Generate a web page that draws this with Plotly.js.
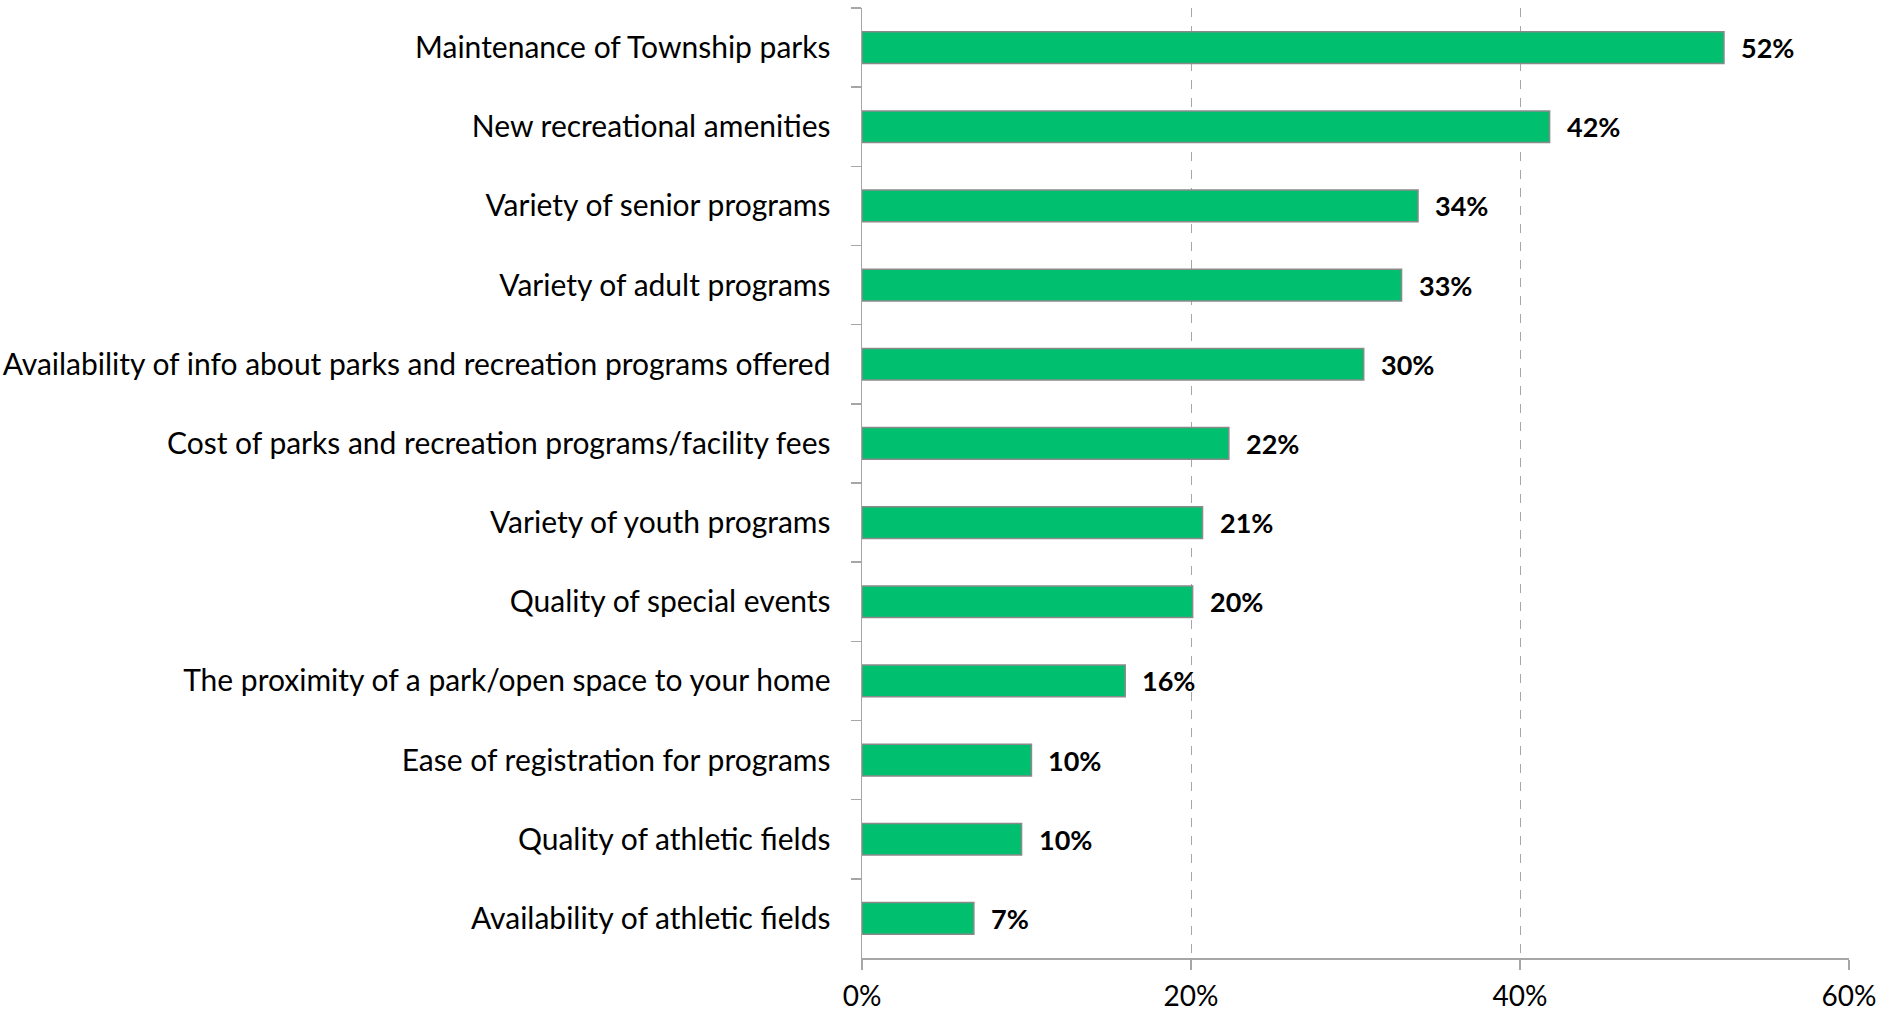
<!DOCTYPE html>
<html><head><meta charset="utf-8">
<script src="https://cdn.plot.ly/plotly-3.0.1.min.js"></script>
<style>html,body{margin:0;padding:0;background:#fff}#chart{width:1883px;height:1013px}</style>
</head><body><div id="chart"></div>
<script>
const categories = [
  "Maintenance of Township parks",
  "New recreational amenities",
  "Variety of senior programs",
  "Variety of adult programs",
  "Availability of info about parks and recreation programs offered",
  "Cost of parks and recreation programs/facility fees",
  "Variety of youth programs",
  "Quality of special events",
  "The proximity of a park/open space to your home",
  "Ease of registration for programs",
  "Quality of athletic fields",
  "Availability of athletic fields"
];
const values = [52.4, 41.8, 33.8, 32.8, 30.5, 22.3, 20.7, 20.1, 16.0, 10.3, 9.7, 6.8];
const labels = ["52%","42%","34%","33%","30%","22%","21%","20%","16%","10%","10%","7%"];
const tickVals = [0, 20, 40, 60];
const tickText = ["0%", "20%", "40%", "60%"];

const font = "Lato, 'Open Sans', sans-serif";
const trace = {
  type: "bar", orientation: "h",
  x: values, y: categories,
  marker: {color: "#00BF6F", line: {color: "#8a8a8a", width: 1.5}},
  width: 0.4,
  hoverinfo: "none"
};
const annotations = values.map((v, i) => ({
  x: v, y: categories[i], xref: "x", yref: "y",
  text: "<b>" + labels[i] + "</b>", showarrow: false,
  xanchor: "left", xshift: 15,
  font: {family: font, size: 27, color: "#000"}
}));
const layout = {
  width: 1883, height: 1013,
  margin: {l: 862, r: 34, t: 8, b: 55},
  paper_bgcolor: "#fff", plot_bgcolor: "#fff",
  showlegend: false,
  bargap: 0.6,
  xaxis: {
    range: [0, 60], tickvals: tickVals, ticktext: tickText,
    showgrid: true, gridcolor: "#a6a6a6", griddash: "dash", gridwidth: 1,
    showline: true, linecolor: "#a6a6a6", linewidth: 1.5,
    ticks: "outside", ticklen: 10, tickcolor: "#a6a6a6", tickwidth: 1.5,
    zeroline: false, fixedrange: true,
    ticklabelstandoff: 3,
    tickfont: {family: font, size: 28, color: "#000"}
  },
  yaxis: {
    type: "category", autorange: "reversed",
    showline: true, linecolor: "#a6a6a6", linewidth: 1.5,
    ticks: "outside", ticklen: 10, tickcolor: "#a6a6a6", tickwidth: 1.5,
    tickson: "boundaries", showgrid: false, fixedrange: true,
    ticklabelstandoff: 24,
    tickfont: {family: font, size: 30, color: "#000"}
  },
  annotations: annotations
};
Plotly.newPlot("chart", [trace], layout, {displayModeBar: false, staticPlot: true});
</script></body></html>
